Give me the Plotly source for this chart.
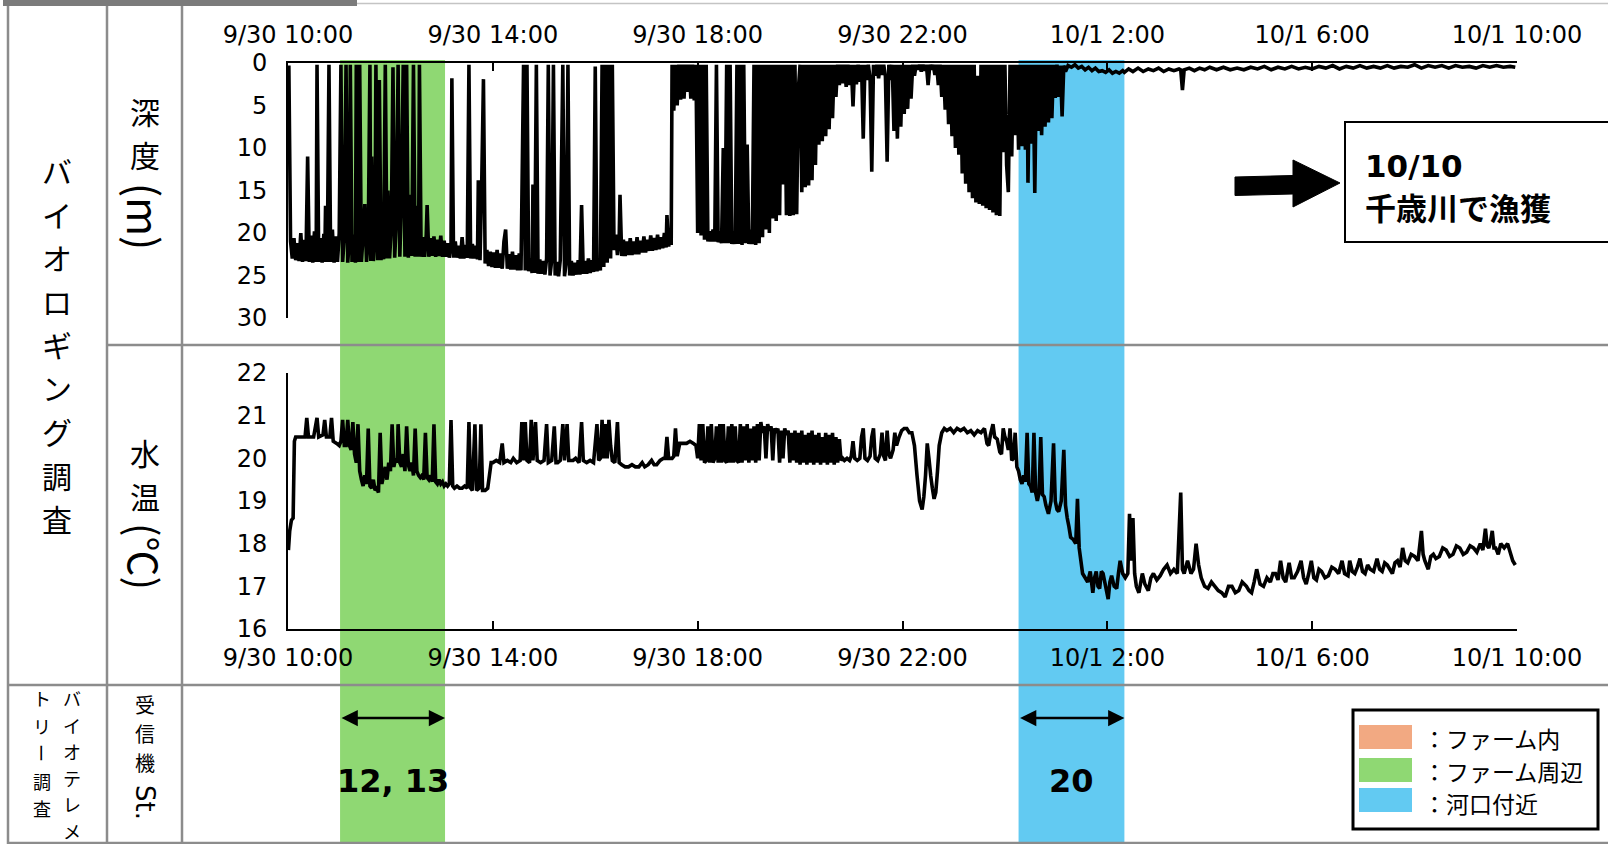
import pandas as pd
import plotly.graph_objects as go

# ------------------------------------------------------------------ data
START = "2019-09-30 10:00"
END = "2019-10-01 10:00"
TICK_STEP_HOURS = 4
DEPTH_TICKS = [0, 5, 10, 15, 20, 25, 30]
TEMP_TICKS = [16, 17, 18, 19, 20, 21, 22]

ZONE_NAMES = ["：ファーム内", "：ファーム周辺", "：河口付近"]
ZONE_COLORS = ["#F2A982", "#8FD873", "#62CAF2"]
FARM_AREA_PERIOD = ["2019-09-30 11:01", "2019-09-30 13:04"]   # receiver St. 12, 13
ESTUARY_PERIOD = ["2019-10-01 00:16", "2019-10-01 02:20"]     # receiver St. 20
STATIONS = ["12, 13", "20"]

TITLE_BIOLOGGING = "バイオロギング調査"
TITLE_TELEMETRY_A = "バイオテレメ"
TITLE_TELEMETRY_B = "トリー調査"
DEPTH_LABEL = ["深度", "(m)"]
TEMP_LABEL = ["水温", "(℃)"]
RECEIVER_LABEL = ["受信機", "St."]
CATCH_DATE = "10/10"
CATCH_TEXT = "千歳川で漁獲"

# depth (minutes after 9/30 10:00, metres)
DEPTH_BEFORE_FARM = [
    (1, 0.3), (3, 21.0), (5, 23.0), (7, 20.6), (9, 23.2), (11, 21.2), (13, 23.3),
    (15, 20.0), (17, 23.4), (19, 20.8), (21, 23.3), (23, 11.0), (25, 23.4), (27, 20.3),
    (29, 23.5), (31, 19.8), (33, 23.4), (34, 0.2), (36, 23.4), (38, 20.6), (40, 23.5),
    (42, 20.1), (43, 23.4), (44, 16.8), (46, 23.4), (48, 0.2), (50, 23.4), (52, 19.6),
    (54, 23.5), (56, 20.4), (58, 23.4), (60, 20.0),
]
DEPTH_FARM = [
    (62, 0.2), (64, 23.4), (66, 20.4), (68, 0.2), (70, 23.5), (72, 20.6), (73, 0.2),
    (75, 23.4), (77, 20.2), (79, 23.5), (80, 0.2), (82, 23.4), (84, 0.2), (86, 23.4),
    (88, 20.3), (90, 16.6), (92, 23.4), (94, 20.8), (96, 0.2), (97, 23.3), (98, 11.0),
    (100, 23.3), (102, 20.1), (103, 0.2), (105, 23.2), (107, 2.0), (109, 23.2), (111, 20.0),
    (112, 23.1), (114, 0.2), (116, 23.0), (117, 15.0), (119, 23.0), (121, 19.5), (123, 0.5),
    (125, 22.9), (127, 18.5), (129, 0.2), (131, 22.8), (133, 16.0), (135, 0.2), (137, 22.8),
    (139, 0.2), (141, 22.9), (143, 15.5), (145, 22.7), (147, 0.2), (149, 22.8), (151, 16.8),
    (153, 22.8), (154, 0.2), (156, 22.8), (158, 20.5), (160, 22.8), (162, 20.2), (163, 16.7),
    (165, 22.8), (167, 20.6), (169, 22.7), (171, 20.4), (173, 22.8), (175, 20.8), (177, 22.7),
    (179, 20.3), (181, 22.8), (183, 20.9), (185, 22.8),
]
DEPTH_MIDDAY = [
    (187, 21.2), (189, 22.9), (191, 21.4), (192, 1.8), (194, 22.9), (196, 21.0), (198, 22.9),
    (200, 21.5), (202, 23.0), (204, 20.5), (206, 23.0), (208, 21.4), (210, 22.9), (212, 0.2),
    (214, 23.0), (216, 21.3), (218, 23.0), (220, 21.5), (222, 23.1), (223, 13.8), (225, 23.2),
    (227, 14.0), (229, 1.9), (231, 23.6), (233, 22.0), (235, 23.9), (237, 22.2), (239, 24.0),
    (241, 22.3), (243, 24.1), (245, 22.0), (247, 24.1), (249, 22.4), (251, 24.2), (253, 21.0),
    (255, 19.6), (257, 24.2), (259, 22.5), (261, 24.3), (263, 22.2), (265, 24.3), (267, 22.6),
    (269, 24.4), (271, 22.4), (273, 24.4), (276, 0.2), (278, 24.4), (280, 0.2), (282, 24.5),
    (284, 23.0), (286, 24.7), (287, 14.3), (289, 24.7), (291, 0.2), (293, 24.8), (295, 23.1),
    (297, 24.8), (299, 23.3), (301, 24.9), (303, 23.0), (305, 0.2), (307, 25.0), (309, 23.2),
    (311, 0.2), (313, 25.0), (315, 23.4), (317, 25.1), (319, 23.2), (322, 0.2), (324, 25.1),
    (326, 23.5), (328, 0.2), (330, 25.0), (332, 23.3), (334, 25.0), (336, 23.5), (338, 24.9),
    (340, 23.2), (342, 24.9), (344, 16.7), (346, 24.8), (348, 23.3), (350, 24.8), (352, 23.0),
    (354, 24.7), (356, 23.2), (358, 24.6), (360, 0.4), (362, 24.5), (364, 23.0), (366, 24.4),
    (368, 0.2), (370, 24.0), (372, 0.2), (374, 23.5), (375, 6.9), (376, 0.2), (378, 23.0),
    (380, 0.2), (382, 22.0), (384, 20.2), (386, 22.6), (388, 20.8), (389, 15.5), (391, 22.7),
    (393, 20.8), (395, 22.7), (397, 21.0), (399, 22.6), (401, 20.6), (403, 22.6), (405, 21.0),
    (407, 22.5), (409, 20.5), (411, 22.5), (413, 20.9), (415, 22.3), (417, 20.4), (419, 22.3),
    (421, 20.8), (423, 22.1), (425, 20.3), (427, 22.1), (429, 20.6), (431, 22.0), (433, 20.2),
    (435, 21.9), (437, 20.5), (439, 21.8), (441, 20.0), (443, 21.7), (444, 17.9), (446, 21.6),
    (448, 20.2), (449, 21.4),
]
DEPTH_DUSK = [
    (450, 0.2), (452, 5.6), (454, 0.2), (456, 5.0), (458, 0.2), (460, 4.3), (462, 0.2),
    (464, 4.2), (466, 0.2), (468, 3.4), (470, 0.2), (472, 4.2), (474, 0.2), (476, 4.4),
    (478, 0.2), (480, 20.0), (482, 0.2), (484, 20.3), (486, 0.2), (488, 20.8), (490, 0.2),
    (492, 21.0), (494, 19.8), (496, 21.0), (498, 19.6), (500, 21.0), (502, 0.2), (504, 21.1),
    (506, 19.8), (508, 21.2), (510, 10.0), (512, 21.2), (514, 0.2), (516, 21.2), (518, 0.2),
    (520, 21.3), (522, 19.8), (524, 21.3), (526, 0.2), (528, 21.3), (530, 0.2), (532, 21.4),
    (534, 0.2), (536, 21.2), (538, 9.6), (540, 21.3), (542, 19.6), (544, 21.3), (546, 0.2),
    (548, 21.4), (550, 0.2), (552, 21.2), (554, 0.2), (556, 20.5), (558, 0.2), (560, 19.6),
    (562, 0.2), (564, 20.0), (566, 0.2), (568, 18.3), (570, 0.2), (572, 18.6), (574, 0.2),
    (576, 17.9), (578, 0.2), (580, 14.3), (582, 0.2), (584, 17.9), (586, 0.2), (588, 18.0),
    (590, 0.2), (592, 17.9), (594, 0.2), (596, 17.8), (598, 3.0), (600, 0.2), (602, 15.2),
    (604, 0.2), (606, 14.6), (608, 0.2), (610, 14.4), (612, 0.2), (614, 13.8), (616, 0.2),
    (618, 12.0), (620, 0.2), (622, 9.6), (624, 0.2), (626, 9.2), (628, 0.2), (630, 8.6),
    (632, 0.2), (634, 7.8), (636, 0.2), (638, 6.5), (640, 0.2), (642, 4.0), (644, 0.2),
    (646, 2.6),
]
DEPTH_NIGHT = [
    (648, 0.2), (650, 2.4), (652, 0.2), (654, 2.8), (656, 0.2), (658, 2.6), (660, 0.2),
    (662, 5.1), (664, 0.2), (666, 2.5), (668, 0.2), (670, 2.2), (672, 0.2), (674, 8.9),
    (676, 0.2), (678, 2.0), (680, 0.2), (682, 1.8), (684, 12.8), (686, 0.2), (688, 1.5),
    (690, 0.2), (692, 1.8), (694, 0.2), (696, 1.4), (698, 0.2), (700, 1.6), (702, 11.6),
    (704, 0.2), (706, 2.0), (708, 0.2), (710, 8.0), (712, 0.2), (714, 8.9), (716, 0.2),
    (718, 7.5), (720, 0.2), (722, 6.0), (724, 0.2), (726, 5.4), (728, 0.2), (730, 4.2),
    (732, 0.2), (734, 1.5), (736, 0.2), (738, 0.8), (740, 0.2), (742, 1.0), (744, 0.2),
    (746, 0.9), (748, 0.2), (750, 2.6), (752, 0.2), (754, 0.8), (756, 0.2), (758, 1.4),
    (760, 0.2), (762, 2.6), (764, 0.2), (766, 4.0), (768, 0.2), (770, 5.5), (772, 0.2),
    (774, 7.2), (776, 0.2), (778, 8.6), (780, 0.2), (782, 10.0), (784, 0.2), (786, 10.8),
    (788, 0.2), (790, 13.0), (792, 0.2), (794, 14.2), (796, 0.2), (798, 15.2), (800, 0.2),
    (802, 15.9), (804, 0.2), (806, 16.4), (808, 1.5), (810, 16.6), (812, 0.2), (814, 16.8),
    (816, 0.2), (818, 17.1), (820, 0.2), (822, 17.3), (824, 0.2), (826, 17.6), (828, 0.2),
    (830, 17.9), (832, 0.2), (834, 18.0), (836, 0.2), (838, 10.5), (840, 0.2), (842, 12.0),
    (844, 15.2), (846, 0.2), (848, 11.0), (850, 0.2), (852, 8.5), (854, 0.2),
]
DEPTH_ESTUARY = [
    (856, 10.2), (858, 0.2), (860, 9.8), (862, 0.2), (864, 10.2), (866, 0.2), (867, 14.1),
    (869, 0.2), (871, 9.5), (873, 0.2), (875, 15.3), (877, 0.2), (879, 8.0), (881, 0.2),
    (883, 8.5), (885, 0.2), (887, 7.5), (889, 0.2), (891, 7.0), (893, 0.2), (895, 6.5),
    (897, 0.2), (899, 4.1), (901, 0.2), (903, 4.0), (905, 0.3), (907, 6.3), (909, 0.3),
    (911, 1.0), (914, 0.3), (918, 0.5), (922, 0.2), (926, 0.6), (930, 0.4), (934, 0.8),
    (938, 0.5), (942, 0.9), (946, 0.6), (950, 1.0), (954, 0.9), (958, 1.1), (962, 0.8),
    (966, 1.2), (970, 1.0), (974, 1.2), (978, 0.9),
]
DEPTH_RIVER = [
    (980, 1.1), (985, 0.7), (990, 1.0), (996, 0.6), (1002, 1.0), (1008, 0.7), (1014, 0.9),
    (1020, 0.6), (1026, 1.0), (1032, 0.7), (1038, 0.9), (1044, 0.7), (1046, 0.8), (1048, 3.2),
    (1050, 0.8), (1056, 0.6), (1062, 0.9), (1068, 0.6), (1074, 0.8), (1080, 0.5), (1088, 0.8),
    (1096, 0.5), (1104, 0.8), (1112, 0.6), (1120, 0.8), (1128, 0.5), (1136, 0.7), (1144, 0.4),
    (1152, 0.8), (1160, 0.5), (1168, 0.7), (1176, 0.4), (1184, 0.7), (1192, 0.5), (1200, 0.7),
    (1208, 0.4), (1216, 0.6), (1224, 0.3), (1232, 0.7), (1240, 0.4), (1248, 0.6), (1256, 0.3),
    (1264, 0.6), (1272, 0.4), (1280, 0.6), (1288, 0.3), (1296, 0.6), (1304, 0.4), (1312, 0.5),
    (1320, 0.2), (1328, 0.6), (1336, 0.3), (1344, 0.5), (1352, 0.3), (1360, 0.6), (1368, 0.3),
    (1376, 0.5), (1384, 0.4), (1392, 0.6), (1400, 0.3), (1408, 0.5), (1416, 0.3), (1424, 0.5),
    (1432, 0.4), (1438, 0.5),
]

# water temperature (minutes after 9/30 10:00, deg C)
TEMP_BEFORE_FARM = [
    (0.5, 17.85), (2, 18.3), (4, 18.55), (6, 18.6), (7.5, 20.4), (9, 20.5), (14, 20.5),
    (20, 20.5), (22, 20.95), (24, 20.5), (30, 20.5), (34, 20.95), (36, 20.5), (41, 20.55),
    (43, 20.9), (45, 20.5), (49, 20.5), (51, 20.95), (53, 20.4), (57, 20.35), (60, 20.3),
]
TEMP_FARM = [
    (62, 20.4), (64, 20.9), (66, 20.3), (68, 20.3), (70, 20.9), (72, 20.3), (74, 20.2),
    (76, 20.85), (78, 20.1), (80, 19.9), (82, 20.8), (84, 19.7), (86, 19.5), (88, 19.35),
    (90, 19.6), (92, 19.4), (94, 20.7), (96, 19.35), (98, 19.3), (100, 19.5), (102, 19.25),
    (104, 19.3), (106, 19.2), (108, 20.6), (110, 19.4), (112, 19.6), (114, 19.8), (116, 19.5),
    (118, 19.9), (120, 19.7), (122, 20.8), (124, 19.8), (126, 20.0), (128, 19.9), (129, 20.8),
    (131, 19.9), (133, 19.8), (135, 20.1), (137, 19.7), (139, 20.75), (141, 19.85), (143, 19.7),
    (145, 19.9), (147, 19.6), (149, 20.7), (151, 19.7), (153, 19.6), (155, 19.55), (157, 19.6),
    (159, 19.5), (161, 20.6), (163, 19.55), (165, 19.5), (167, 19.6), (169, 19.45), (171, 20.8),
    (173, 19.45), (175, 19.4), (177, 19.5), (179, 19.4), (181, 19.45), (183, 19.35),
]
TEMP_MIDDAY = [
    (185, 19.4), (187, 19.35), (189, 19.4), (191, 20.9), (193, 19.35), (195, 19.3), (198, 19.35),
    (201, 19.3), (204, 19.3), (207, 19.35), (210, 19.3), (212, 20.85), (214, 19.3), (216, 19.25),
    (219, 20.8), (221, 19.25), (224, 19.3), (226, 20.8), (228, 19.25), (231, 19.25), (234, 19.3),
    (236, 19.6), (238, 19.9), (240, 19.9), (244, 19.95), (248, 19.9), (251, 20.35), (253, 19.9),
    (257, 19.95), (261, 19.9), (264, 20.0), (268, 19.9), (272, 19.95), (274, 20.85), (276, 19.95),
    (278, 20.85), (280, 19.95), (283, 19.9), (285, 20.9), (287, 19.95), (290, 20.85), (292, 19.95),
    (296, 19.9), (300, 19.95), (303, 20.8), (305, 19.9), (309, 19.95), (312, 20.75), (314, 19.9),
    (316, 19.9), (319, 19.95), (322, 20.8), (324, 19.95), (327, 20.8), (329, 19.95), (334, 19.95),
    (337, 20.0), (341, 19.9), (344, 20.85), (346, 19.95), (350, 19.9), (354, 19.95), (358, 19.9),
    (362, 20.8), (364, 19.95), (366, 20.0), (368, 20.9), (370, 20.0), (372, 20.8), (374, 20.0),
    (376, 20.9), (378, 20.3), (380, 19.95), (383, 19.9), (386, 20.85), (388, 19.9),
]
TEMP_EVENING = [
    (391, 19.85), (395, 19.8), (399, 19.8), (403, 19.85), (407, 19.8), (411, 19.8), (415, 19.9),
    (418, 19.8), (422, 19.85), (426, 19.95), (429, 19.85), (432, 19.85), (436, 19.95), (440, 20.0),
    (442, 20.0), (444, 20.5), (446, 20.0), (450, 20.0), (452, 20.05), (454, 20.7), (456, 20.05),
    (459, 20.35), (463, 20.35), (467, 20.35), (471, 20.4), (475, 20.35), (478, 20.3),
    (480, 20.0), (482, 20.8), (484, 19.95), (486, 20.8), (488, 19.9), (490, 19.95), (492, 20.75),
    (494, 19.9), (496, 20.8), (498, 19.9), (500, 20.0), (502, 20.75), (504, 19.9), (506, 20.8),
    (508, 19.9), (510, 20.8), (512, 19.95), (514, 19.9), (516, 20.75), (518, 19.9), (520, 20.8),
    (522, 19.9), (524, 20.75), (526, 19.95), (528, 19.9), (530, 20.8), (532, 19.9), (534, 20.75),
    (536, 19.95), (538, 20.8), (540, 19.9), (542, 20.7), (544, 19.95), (546, 20.75), (548, 19.9),
    (550, 20.8), (552, 19.95), (554, 20.85), (556, 20.6), (558, 20.75), (560, 20.0), (562, 20.8),
    (564, 20.65), (566, 20.75), (568, 19.95), (570, 20.7), (572, 20.6), (574, 20.7), (576, 19.9),
    (578, 20.65), (580, 20.0), (582, 20.7), (584, 20.55), (586, 20.65), (588, 19.9), (590, 20.6),
    (592, 19.95), (594, 20.65), (596, 19.9), (598, 20.6), (600, 19.85), (602, 20.65), (604, 19.9),
    (606, 20.55), (608, 19.85), (610, 20.6), (612, 19.9), (614, 20.65), (616, 19.85), (618, 20.55),
    (620, 19.9), (622, 20.6), (624, 19.85), (626, 20.5), (628, 19.9), (630, 20.6), (632, 19.85),
    (634, 20.55), (636, 19.9), (638, 20.6), (640, 19.85), (642, 20.5), (644, 19.9), (646, 20.45),
    (648, 19.95), (650, 20.0), (652, 19.95), (655, 20.0), (658, 19.95), (660, 20.05), (662, 20.4),
    (664, 20.0), (667, 19.95), (670, 20.0), (672, 20.5), (674, 20.7), (676, 20.0), (679, 19.95),
    (682, 20.05), (684, 20.5), (686, 20.7), (688, 20.0), (691, 19.95), (694, 20.1), (696, 20.6),
    (698, 20.05), (700, 19.95), (702, 20.65), (704, 20.1), (706, 20.0), (709, 20.2), (711, 20.6),
    (713, 20.3), (716, 20.5), (719, 20.65), (722, 20.7), (725, 20.7), (728, 20.6), (731, 20.6),
    (734, 20.3), (737, 19.6), (740, 19.0), (743, 18.8), (745, 19.1), (747, 19.6), (749, 20.35),
    (751, 20.0), (753, 19.6), (755, 19.3), (757, 19.05), (759, 19.2), (761, 19.7), (763, 20.3),
    (766, 20.6), (769, 20.7),
]
TEMP_NIGHT = [
    (772, 20.65), (776, 20.7), (780, 20.6), (784, 20.7), (788, 20.65), (792, 20.7), (796, 20.6),
    (800, 20.65), (804, 20.55), (808, 20.65), (812, 20.6), (816, 20.7), (819, 20.35), (821, 20.3),
    (823, 20.55), (826, 20.8), (828, 20.5), (831, 20.45), (834, 20.15), (836, 20.1), (838, 20.7),
    (840, 20.5), (842, 20.4), (844, 20.2), (846, 20.7), (848, 19.95), (850, 20.0), (852, 20.6),
    (854, 19.8),
]
TEMP_ESTUARY = [
    (856, 19.7), (858, 19.5), (860, 19.4), (862, 19.6), (864, 19.45), (866, 20.6), (868, 19.4),
    (870, 19.35), (872, 19.2), (874, 20.6), (876, 19.2), (878, 19.0), (880, 19.2), (882, 20.5),
    (884, 19.15), (886, 19.1), (888, 18.9), (891, 18.7), (894, 19.0), (897, 20.35), (899, 19.0),
    (901, 18.8), (903, 18.75), (906, 19.0), (909, 20.2), (911, 18.9), (913, 18.6), (915, 18.4),
    (917, 18.15), (920, 18.1), (923, 18.0), (925, 19.05), (927, 17.9), (929, 17.6), (931, 17.3),
    (934, 17.2), (937, 17.1), (940, 17.35), (943, 16.85), (945, 17.2), (947, 17.35), (949, 17.0),
    (951, 16.95), (953, 17.35), (955, 17.3), (958, 17.0), (961, 16.7), (963, 17.1), (965, 17.25),
    (968, 17.0), (971, 16.95), (973, 17.3), (975, 17.6), (978, 17.3), (981, 17.2), (984, 17.3),
    (986, 18.7), (988, 17.6), (990, 18.6), (992, 17.3), (994, 17.0),
]
TEMP_RIVER = [
    (997, 16.85), (1001, 17.3), (1004, 17.05), (1008, 16.9), (1011, 17.2), (1014, 17.3), (1018, 17.15),
    (1022, 17.25), (1026, 17.4), (1030, 17.5), (1034, 17.3), (1038, 17.4), (1042, 17.3), (1046, 19.2),
    (1048, 17.4), (1050, 17.3), (1054, 17.6), (1058, 17.3), (1061, 17.4), (1064, 18.0), (1067, 17.5),
    (1070, 17.2), (1074, 17.0), (1078, 16.95), (1082, 17.1), (1086, 17.0), (1090, 16.9), (1094, 16.85),
    (1098, 16.75), (1102, 17.0), (1106, 17.0), (1110, 16.85), (1114, 16.9), (1118, 17.1), (1123, 17.0),
    (1126, 16.9), (1129, 16.85), (1132, 17.1), (1135, 17.4), (1139, 17.05), (1143, 17.0), (1147, 17.2),
    (1151, 17.1), (1154, 17.3), (1157, 17.3), (1160, 17.15), (1163, 17.6), (1166, 17.2), (1169, 17.1),
    (1173, 17.55), (1176, 17.2), (1179, 17.2), (1183, 17.35), (1187, 17.6), (1190, 17.2), (1193, 17.05),
    (1196, 17.3), (1199, 17.6), (1202, 17.2), (1205, 17.15), (1208, 17.4), (1211, 17.35), (1215, 17.2),
    (1219, 17.25), (1223, 17.45), (1227, 17.4), (1231, 17.3), (1235, 17.6), (1238, 17.3), (1242, 17.25),
    (1244, 17.6), (1247, 17.35), (1250, 17.3), (1253, 17.45), (1256, 17.65), (1259, 17.35), (1262, 17.3),
    (1265, 17.5), (1268, 17.4), (1272, 17.35), (1276, 17.65), (1279, 17.4), (1282, 17.35), (1285, 17.55),
    (1288, 17.5), (1291, 17.4), (1294, 17.3), (1297, 17.55), (1300, 17.6), (1303, 17.45), (1306, 17.9),
    (1309, 17.6), (1312, 17.55), (1316, 17.75), (1320, 17.7), (1324, 17.6), (1328, 18.3), (1330, 17.75),
    (1332, 17.6), (1336, 17.4), (1339, 17.7), (1342, 17.75), (1345, 17.65), (1349, 17.7), (1353, 17.9),
    (1357, 17.85), (1361, 17.7), (1365, 17.75), (1369, 17.95), (1373, 17.9), (1377, 17.75), (1381, 17.8),
    (1385, 17.95), (1389, 17.9), (1393, 17.8), (1397, 18.0), (1400, 17.85), (1403, 18.35), (1405, 17.95),
    (1407, 17.9), (1409, 18.05), (1411, 18.3), (1413, 17.9), (1415, 17.9), (1418, 17.75), (1421, 18.0),
    (1425, 17.9), (1429, 18.0), (1432, 17.8), (1435, 17.6), (1438, 17.5),
]

# ------------------------------------------------------------------ helpers
W, H = 1608, 844
JP = "Noto Sans CJK JP"
NUM = "DejaVu Sans"


def X(px):
    return px / W


def Y(py):
    return 1 - py / H


def to_time(minutes):
    return pd.Timestamp(START) + pd.to_timedelta(minutes, unit="min")


depth_pts = (DEPTH_BEFORE_FARM + DEPTH_FARM + DEPTH_MIDDAY + DEPTH_DUSK
             + DEPTH_NIGHT + DEPTH_ESTUARY + DEPTH_RIVER)
temp_pts = (TEMP_BEFORE_FARM + TEMP_FARM + TEMP_MIDDAY + TEMP_EVENING
            + TEMP_NIGHT + TEMP_ESTUARY + TEMP_RIVER)

fig = go.Figure()
fig.add_trace(go.Scatter(
    x=[to_time(t) for t, _ in depth_pts], y=[d for _, d in depth_pts],
    mode="lines", line=dict(color="black", width=3.6, simplify=False),
    xaxis="x", yaxis="y", hoverinfo="skip"))
fig.add_trace(go.Scatter(
    x=[to_time(t) for t, _ in temp_pts], y=[c for _, c in temp_pts],
    mode="lines", line=dict(color="black", width=3.6, simplify=False),
    xaxis="x2", yaxis="y2", hoverinfo="skip"))

tickfont = dict(family=NUM, size=24, color="black")
common_x = dict(
    type="date", range=[START, END], domain=[X(288), X(1517)],
    showline=True, linecolor="black", linewidth=1.6,
    ticks="inside", ticklen=8, tickwidth=1.6, tickcolor="black",
    tick0=START, dtick=TICK_STEP_HOURS * 3600 * 1000,
    tickformat="%-m/%-d %-H:%M", tickfont=tickfont,
    showgrid=False, zeroline=False, fixedrange=True, automargin=False)
common_y = dict(
    showline=True, linecolor="black", linewidth=1.6, ticks="",
    showgrid=False, zeroline=False, fixedrange=True, automargin=False,
    tickfont=dict(family=NUM, size=24, color="black"), ticklabelstandoff=14)

shapes = []
annotations = []

# coloured zones
for period, color in [(FARM_AREA_PERIOD, ZONE_COLORS[1]), (ESTUARY_PERIOD, ZONE_COLORS[2])]:
    shapes.append(dict(type="rect", xref="x", yref="paper", x0=period[0], x1=period[1],
                       y0=0, y1=Y(60), fillcolor=color, line=dict(width=0), layer="below"))


def hline(x0, x1, y, color="#8c8c8c", width=2.5):
    shapes.append(dict(type="line", xref="paper", yref="paper", x0=X(x0), x1=X(x1),
                       y0=Y(y), y1=Y(y), line=dict(color=color, width=width)))


def vline(x, y0, y1, color="#8c8c8c", width=2.5):
    shapes.append(dict(type="line", xref="paper", yref="paper", x0=X(x), x1=X(x),
                       y0=Y(y0), y1=Y(y1), line=dict(color=color, width=width)))


def rect(x0, y0, x1, y1, fill, line_color=None, line_width=0):
    shapes.append(dict(type="rect", xref="paper", yref="paper", x0=X(x0), x1=X(x1),
                       y0=Y(y1), y1=Y(y0), fillcolor=fill,
                       line=dict(color=line_color or fill, width=line_width)))


# table frame
rect(3, 0, 357, 6, "#7b7b7b")
hline(357, 1608, 3.5, color="#c4c4c4", width=1.5)
vline(8, 6, 844)
vline(107, 6, 844)
vline(182, 6, 844)
hline(107, 1608, 345)
hline(8, 1608, 685)
hline(8, 1608, 843)


def text(s, x, y, size, family=JP, angle=0, xanchor="center", bold=False):
    annotations.append(dict(
        text=f"<b>{s}</b>" if bold else s, x=X(x), y=Y(y), xref="paper", yref="paper",
        showarrow=False, xanchor=xanchor, yanchor="middle", textangle=angle,
        font=dict(family=family, size=size, color="black")))


def vertical(chars, x, y_first, pitch, size):
    # vertical writing: one upright character per annotation, long-vowel mark turned
    for i, ch in enumerate(chars):
        text(ch, x, y_first + i * pitch, size, angle=90 if ch == "ー" else 0)


vertical(TITLE_BIOLOGGING, 57, 170, 43.5, 30)
vertical(TITLE_TELEMETRY_A, 72, 698, 26.6, 18)
vertical(TITLE_TELEMETRY_B, 42, 698, 27.5, 18)

vertical(DEPTH_LABEL[0], 145, 111, 43.5, 30)
text(DEPTH_LABEL[1], 145, 216, 42, angle=90)
vertical(TEMP_LABEL[0], 145, 452, 43.5, 30)
text(TEMP_LABEL[1], 145, 556, 40, angle=90)
vertical(RECEIVER_LABEL[0], 145, 704, 29, 20)
text(RECEIVER_LABEL[1], 145, 802, 26, family=NUM, angle=90)

# receiver stations with double arrows
for period, label in [(FARM_AREA_PERIOD, STATIONS[0]), (ESTUARY_PERIOD, STATIONS[1])]:
    annotations.append(dict(
        x=period[1], y=Y(718), xref="x2", yref="paper",
        ax=period[0], ay=0, axref="x2", ayref="pixel",
        text="", showarrow=True, arrowhead=2, startarrowhead=2, arrowside="end+start",
        arrowsize=1.25, arrowwidth=2.6, arrowcolor="black", standoff=0, startstandoff=0))
    mid = pd.Timestamp(period[0]) + (pd.Timestamp(period[1]) - pd.Timestamp(period[0])) / 2
    annotations.append(dict(
        text=f"<b>{label}</b>", x=mid, y=Y(781), xref="x2", yref="paper",
        showarrow=False, xanchor="center", yanchor="middle",
        font=dict(family=NUM, size=32, color="black")))

# legend box
rect(1353, 710, 1598, 829, "white", line_color="black", line_width=3)
for i, (name, color) in enumerate(zip(ZONE_NAMES, ZONE_COLORS)):
    top = [725, 758, 788][i]
    rect(1359, top, 1412, top + 24, color)
    text(name, 1421, [738, 771, 803][i], 23, xanchor="left")

# catch annotation box with block arrow
rect(1345, 122, 1620, 242, "white", line_color="black", line_width=2)
text(CATCH_DATE, 1363, 166, 31, family=NUM, xanchor="left", bold=True)
text(CATCH_TEXT, 1363, 206, 31, xanchor="left", bold=True)
arrow_pts = [(1235, 177), (1293, 175.5), (1293, 160), (1340, 183), (1293, 207),
             (1293, 194), (1235, 195.5)]
path = "M " + " L ".join(f"{X(a):.5f},{Y(b):.5f}" for a, b in arrow_pts) + " Z"
shapes.append(dict(type="path", xref="paper", yref="paper", path=path,
                   fillcolor="black", line=dict(color="black", width=1)))

fig.update_layout(
    width=W, height=H, autosize=False,
    margin=dict(l=0, r=0, t=0, b=0, pad=0, autoexpand=False),
    paper_bgcolor="white", plot_bgcolor="rgba(0,0,0,0)",
    showlegend=False,
    xaxis=dict(common_x, side="top", anchor="y", ticklabelstandoff=9),
    xaxis2=dict(common_x, side="bottom", anchor="y2", ticklabelstandoff=6),
    yaxis=dict(common_y, domain=[Y(318), Y(63)], range=[30, 0], tickvals=DEPTH_TICKS, anchor="x"),
    yaxis2=dict(common_y, domain=[Y(629), Y(373)], range=[16, 22], tickvals=TEMP_TICKS, anchor="x2"),
    shapes=shapes,
    annotations=annotations,
)

fig.write_html("out.html", config={"displayModeBar": False})
